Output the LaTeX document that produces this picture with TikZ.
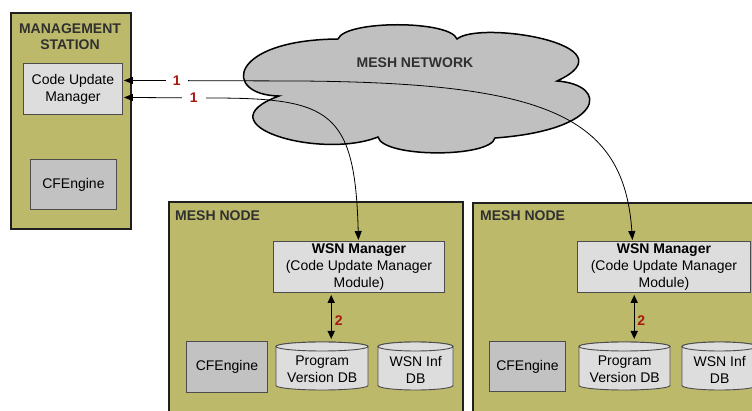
\documentclass[tikz,border=0pt]{standalone}
\usepackage{fontspec}
\setmainfont{Liberation Sans}
\usetikzlibrary{arrows.meta,calc}

\definecolor{olivebg}{RGB}{189,185,107}
\definecolor{boxlight}{RGB}{221,221,221}
\definecolor{boxdark}{RGB}{194,194,194}
\definecolor{cloudgray}{RGB}{192,192,192}
\definecolor{headtext}{RGB}{48,48,48}
\definecolor{steptext}{RGB}{168,24,14}

% database cylinder: x1, y1 (top), x2, y2 (bottom), all in pt, y measured downwards
\newcommand\dbcyl[4]{%
  \pgfmathsetmacro\cylcx{(#1+#3)/2}%
  \pgfmathsetmacro\cylrx{(#3-#1)/2}%
  \filldraw[cylpart] (#1,-#2-4.5) -- (#1,-#4+4.5)
    arc[start angle=180,end angle=360,x radius=\cylrx,y radius=4.5]
    -- (#3,-#2-4.5)
    arc[start angle=0,end angle=180,x radius=\cylrx,y radius=4.5] -- cycle;
  \filldraw[cylpart] (\cylcx,-#2-4.5) ellipse[x radius=\cylrx,y radius=4.5];
}

\begin{document}
\begin{tikzpicture}[x=1pt,y=1pt,
  font=\fontsize{14}{17}\selectfont,
  container/.style={draw=black!88,line width=1.8pt,fill=olivebg,anchor=north west,inner sep=0pt},
  heading/.style={font=\fontsize{14}{16}\selectfont\bfseries,text=headtext,inner sep=0pt},
  litebox/.style={draw=black!70,line width=0.9pt,fill=boxlight,anchor=north west,inner sep=0pt,align=center},
  darkbox/.style={litebox,fill=boxdark},
  dbtext/.style={anchor=north west,inner sep=0pt,align=center},
  cylpart/.style={draw=black!70,line width=0.9pt,fill=boxlight},
  link/.style={line width=0.8pt,{Triangle[length=9pt,width=7pt]}-{Triangle[length=9pt,width=7pt]}},
  duplex/.style={line width=1.4pt,{Triangle[length=8pt,width=7pt]}-{Triangle[length=8pt,width=7pt]}},
  steplabel/.style={font=\fontsize{14}{16}\selectfont\bfseries,text=steptext,inner sep=0pt}
]
\useasboundingbox (0,-411) rectangle (752,0);
\clip (0,-411) rectangle (752,0);

% containers
\node[container,minimum width=120pt,minimum height=216pt] (ms) at (10,-12) {};
\node[heading,align=center] (mstitle) at (70,-37) {MANAGEMENT\\STATION};
\node[container,minimum width=294pt,minimum height=230pt] (mn1) at (168,-201) {};
\node[heading,anchor=west] (mn1title) at (175,-216) {MESH NODE};
\node[container,minimum width=300pt,minimum height=230pt] (mn2) at (472,-202) {};
\node[heading,anchor=west] (mn2title) at (480,-216) {MESH NODE};

% mesh network cloud
\filldraw[draw=black,line width=1.5pt,fill=cloudgray]
  (279,-96) .. controls (222,-95) and (228,-40) .. (338,-39)
  .. controls (345,-20) and (450,-20) .. (457,-39)
  .. controls (480,-20) and (635,-45) .. (557,-81)
  .. controls (610,-85) and (605,-130) .. (495,-138)
  .. controls (490,-158) and (383,-158) .. (378,-137)
  .. controls (320,-160) and (200,-125) .. (279,-96) -- cycle;
\node[heading] (net) at (415,-63) {MESH NETWORK};

% management station
\node[litebox,minimum width=99pt,minimum height=51pt] (cum) at (23,-63) {Code Update\\Manager};
\node[darkbox,minimum width=86pt,minimum height=50pt] (cfms) at (30,-159) {CFEngine};

% first mesh node
\node[litebox,minimum width=171pt,minimum height=51pt] (wsn1) at (273,-241)
  {\textbf{WSN Manager}\\(Code Update Manager\\Module)};
\node[darkbox,minimum width=81pt,minimum height=51pt] (cfe1) at (186,-341) {CFEngine};
\dbcyl{276}{342}{368}{390}
\node[dbtext,minimum width=92pt,minimum height=41pt] (pv1) at (276,-349) {Program\\Version DB};
\dbcyl{378}{342}{453}{390}
\node[dbtext,minimum width=75pt,minimum height=41pt] (wi1) at (378,-349) {WSN Inf\\DB};

% second mesh node
\node[litebox,minimum width=173pt,minimum height=51pt] (wsn2) at (577,-241)
  {\textbf{WSN Manager}\\(Code Update Manager\\Module)};
\node[darkbox,minimum width=76pt,minimum height=50pt] (cfe2) at (489,-341) {CFEngine};
\dbcyl{579}{342}{670}{390}
\node[dbtext,minimum width=91pt,minimum height=41pt] (pv2) at (579,-349) {Program\\Version DB};
\dbcyl{682}{342}{757}{390}
\node[dbtext,minimum width=75pt,minimum height=41pt] (wi2) at (682,-349) {WSN Inf\\DB};

% step 2: manager <-> program version database
\coordinate (d1) at ($(pv1.north)+(9,0)$);
\draw[duplex,shorten <=2pt,shorten >=10pt] (d1 |- wsn1.south) -- (d1)
  node[steplabel,midway,right=3pt] (s21) {2};
\coordinate (d2) at ($(pv2.north)+(9.5,0)$);
\draw[duplex,shorten <=2pt,shorten >=10pt] (d2 |- wsn2.south) -- (d2)
  node[steplabel,midway,right=2.5pt] (s22) {2};

% step 1: code update manager <-> WSN managers across the mesh
\draw[link] ($(cum.east)+(1,8.5)$)
  -- node[steplabel,fill=white,inner xsep=7pt,inner ysep=2pt,pos=0.3] (s11) {1} (300,-81)
  .. controls (545,-83) and (624,-115) .. ($(wsn2.north)+(-31.5,1)$);
\draw[link] ($(cum.east)+(1,-8.5)$)
  -- node[steplabel,fill=white,inner xsep=8pt,inner ysep=2pt,pos=0.81] (s12) {1} (210,-98)
  .. controls (330,-98) and (355,-110) .. ($(wsn1.north)+(-0.5,1)$);
\end{tikzpicture}
\end{document}
